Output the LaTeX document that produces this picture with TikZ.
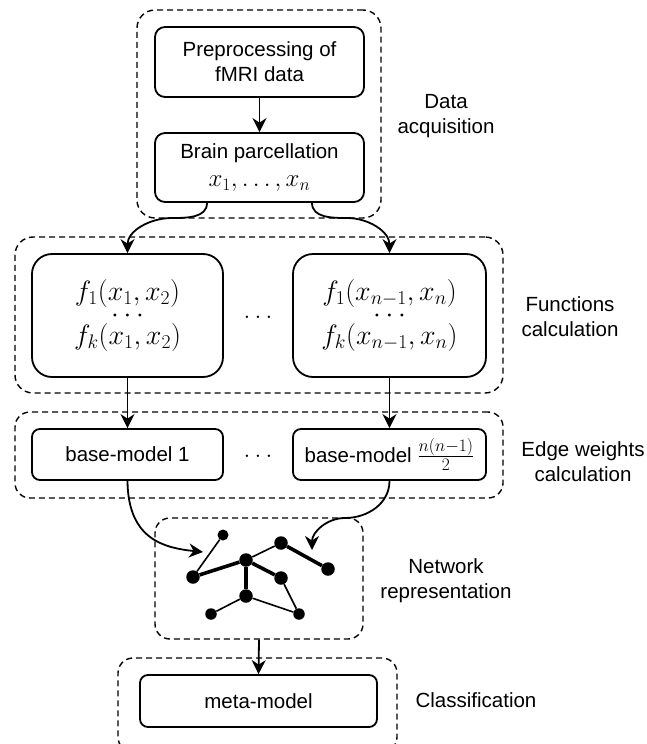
\RequirePackage{fix-cm}
\documentclass[tikz,border=0pt]{standalone}
\usepackage{fontspec}
\setmainfont{Liberation Sans}
\usetikzlibrary{arrows.meta}
\newcommand\mthfont{\fontsize{28}{22}\selectfont\lineskiplimit-40pt\relax}
\begin{document}
\begin{tikzpicture}[x=1pt,y=-1pt,
  txt/.style={font=\fontsize{20.5}{25}\selectfont, align=center},
  mth/.style={font=\mthfont, align=center},
  box/.style={draw, line width=1.8pt, rounded corners=10pt, inner sep=0pt},
  group/.style={draw, line width=1.4pt, dash pattern=on 6pt off 4pt, rounded corners=18pt, inner sep=0pt},
  arr/.style={line width=1.8pt, -{Stealth[length=14pt,width=14pt,inset=4.5pt]}},
  vtx/.style={circle, fill=black, inner sep=0pt, minimum size=#1},
  lnk/.style={line width=1.6pt},
  blnk/.style={line width=3.6pt},
  lbl/.style={txt}
]
\useasboundingbox (0,0) rectangle (647,744);

% dashed stage frames
\node[group, minimum width=244, minimum height=208] (acq) at (259,114) {};
\node[group, minimum width=488, minimum height=156] (fun) at (259,315) {};
\node[group, minimum width=488, minimum height=86, rounded corners=15pt] (edg) at (259,455) {};
\node[group, minimum width=208, minimum height=121, rounded corners=15pt] (net) at (259,578.5) {};
\node[group, minimum width=279, minimum height=94, rounded corners=15pt] (cls) at (257.5,705) {};

% stage labels
\node[lbl] (lacq) at (446,116) {Data\\acquisition};
\node[lbl] (lfun) at (570,316.5) {Functions\\calculation};
\node[lbl] (ledg) at (583,461.5) {Edge weights\\calculation};
\node[lbl] (lnet) at (446,580.5) {Network\\representation};
\node[lbl] (lcls) at (476,700) {Classification};

% processing boxes
\node[box, txt, minimum width=209, minimum height=70] (pre) at (259.5,62) {Preprocessing of\\fMRI data};
\node[box, txt, minimum width=209, minimum height=69,
      font=\fontsize{20.5}{28}\selectfont] (brain) at (259.5,167.5)
      {Brain parcellation\\{\fontsize{25}{28}\selectfont$x_1,\ldots,x_n$}};

\node[box, mth, rounded corners=20pt, minimum width=191, minimum height=123] (f1) at (127.5,315.5)
      {$f_1(x_1,x_2)$\\$\cdots$\\$f_k(x_1,x_2)$};
\node[box, mth, rounded corners=20pt, minimum width=193, minimum height=123] (fn) at (389.5,315.5)
      {$f_1(x_{n-1},x_n)$\\$\cdots$\\$f_k(x_{n-1},x_n)$};
\node[font=\fontsize{25}{25}\selectfont, anchor=base] (fdots) at (258,318) {$\ldots$};

\node[box, txt, rounded corners=8pt, minimum width=191, minimum height=51] (bm1) at (127.5,454.5) {base-model 1};
\node[box, txt, rounded corners=8pt, minimum width=193, minimum height=51] (bmn) at (389.5,454.5)
      {base-model {\fontsize{25}{25}\selectfont$\frac{n(n-1)}{2}$}};
\node[font=\fontsize{25}{25}\selectfont, anchor=base] (bdots) at (258,457) {$\ldots$};

\node[box, txt, rounded corners=8pt, minimum width=237, minimum height=52] (meta) at (258.5,701) {meta-model};

% network sketch
\node[vtx=11pt] (va) at (223,535) {};
\node[vtx=13.5pt] (vb) at (193,577) {};
\node[vtx=13.5pt] (vc) at (246,560) {};
\node[vtx=13.5pt] (vd) at (281,543) {};
\node[vtx=13.5pt] (ve) at (328,569) {};
\node[vtx=13.5pt] (vf) at (281,578) {};
\node[vtx=13.5pt] (vg) at (246,596) {};
\node[vtx=11.5pt] (vh) at (211,614) {};
\node[vtx=11.5pt] (vi) at (299,614) {};
\draw[lnk] (va) -- (vb);
\draw[blnk] (vb) -- (vc);
\draw[lnk] (vc) -- (vd);
\draw[blnk] (vd) -- (ve);
\draw[blnk] (vc) -- (vf);
\draw[blnk] (vc) -- (vg);
\draw[lnk] (vg) -- (vh);
\draw[lnk] (vg) -- (vi);
\draw[lnk] (vf) -- (vi);

% connectors
\draw[arr] (pre) -- (brain);
\draw[arr] (brain.south -| 207,0) to[out=-90,in=0] (172,218) to[out=180,in=90] (f1.north);
\draw[arr] (brain.south -| 312,0) to[out=-90,in=180] (347,218) to[out=0,in=90] (fn.north);
\draw[arr] (f1) -- (bm1);
\draw[arr] (fn) -- (bmn);
\coordinate (tl) at (203,552);
\coordinate (tr) at (312,550);
\draw[arr] (bm1.south) .. controls (128,540) and (165,548) .. (tl);
\draw[arr] (bmn.south) to[out=-90,in=0] (345,518) to[out=180,in=90] (tr);
\draw[arr] (net.south) -- (meta.north);
\end{tikzpicture}
\end{document}
